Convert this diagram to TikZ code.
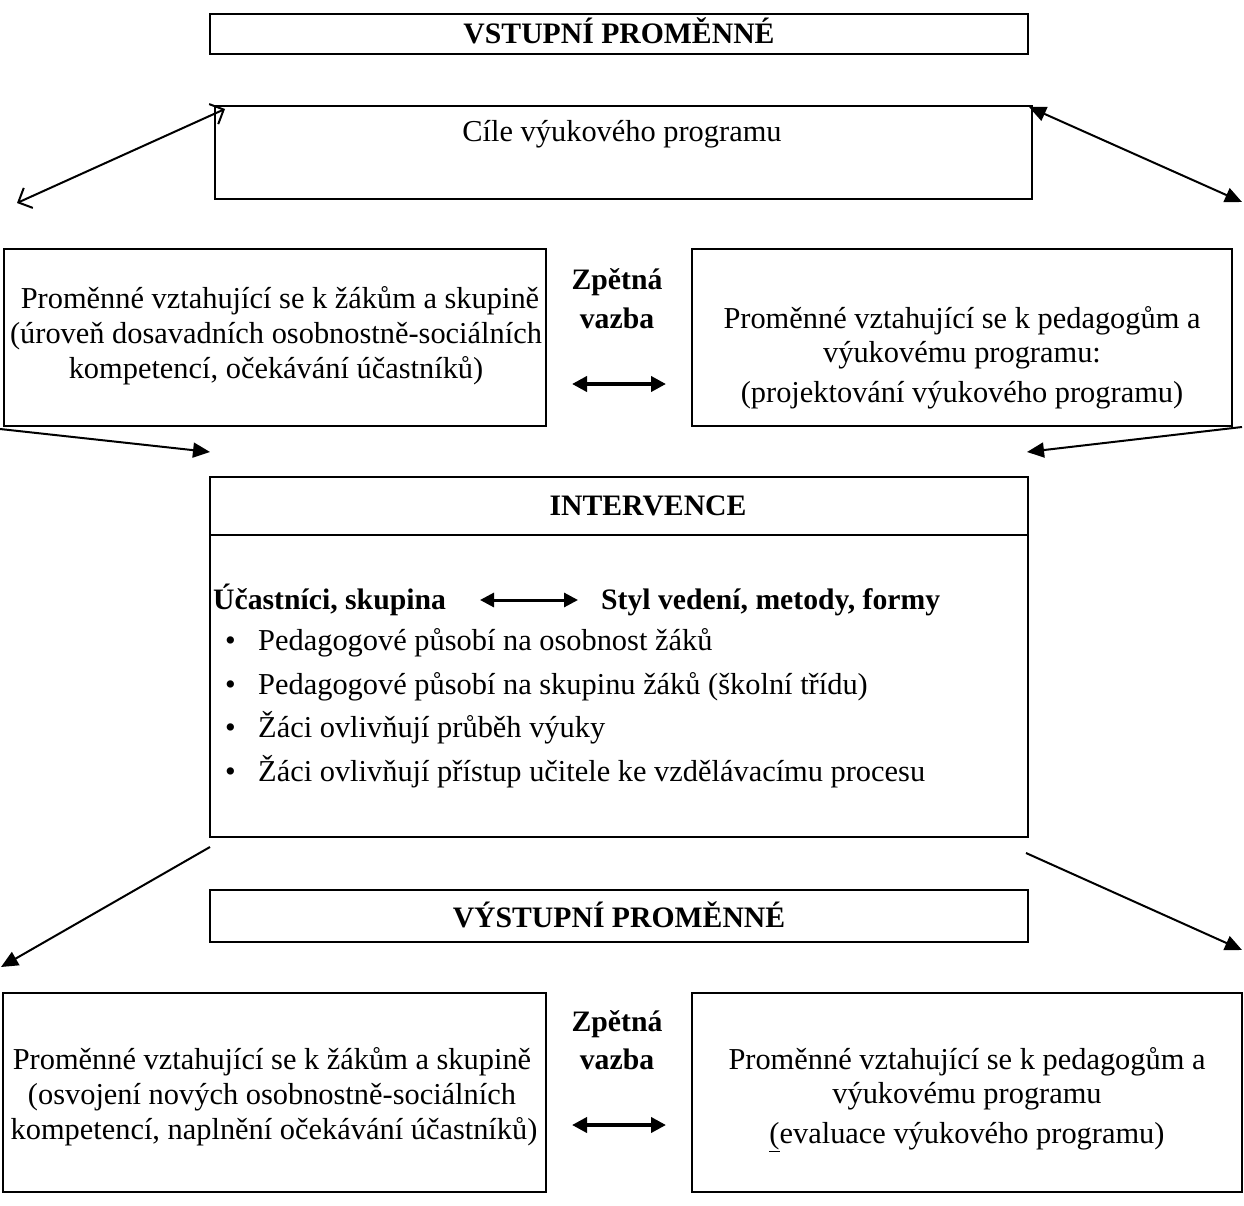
\documentclass[tikz,border=0pt]{standalone}
\usepackage{fontspec}
\setmainfont{Liberation Serif}
\usetikzlibrary{arrows.meta}
\begin{document}
\begin{tikzpicture}[x=1pt,y=-1pt,
  box/.style={draw, line width=2pt, inner sep=0pt},
  txt/.style={anchor=base, inner sep=0pt, font=\fontsize{30.4}{35}\selectfont},
  btxt/.style={anchor=base, inner sep=0pt, font=\fontsize{29.7}{35}\selectfont\bfseries},
  ltxt/.style={txt, anchor=base west},
  lbtxt/.style={btxt, anchor=base west},
  conn/.style={line width=2pt},
  tri/.style={-{Triangle[length=17pt,width=15pt]}},
  dtri/.style={{Triangle[length=17pt,width=15pt]}-{Triangle[length=17pt,width=15pt]}},
  barbs/.style={{Straight Barb[length=11pt,width=22pt]}-{Straight Barb[length=11pt,width=22pt]}},
  zv/.style={line width=4pt, {Triangle[length=15pt,width=15pt]}-{Triangle[length=15pt,width=15pt]}},
]
\useasboundingbox (0,0) rectangle (1244,1206);

% boxes
\node[box, minimum width=818pt, minimum height=40pt] (vin) at (619,34) {};
\node[box, minimum width=817pt, minimum height=93pt] (cile) at (623.5,152.5) {};
\node[box, minimum width=542pt, minimum height=177pt] (lz1) at (275,337.5) {};
\node[box, minimum width=540pt, minimum height=177pt] (rp1) at (962,337.5) {};
\node[box, minimum width=818pt, minimum height=360pt] (int) at (619,657) {};
\coordinate (div) at (0,535);
\draw[line width=2pt] (int.west |- div) -- (int.east |- div);
\node[box, minimum width=818pt, minimum height=52pt] (vout) at (619,916) {};
\node[box, minimum width=543pt, minimum height=199pt] (lz2) at (274.5,1092.5) {};
\node[box, minimum width=550pt, minimum height=199pt] (rp2) at (967,1092.5) {};

% texts
\node[btxt] (t-vin) at (619,44) {VSTUPNÍ PROMĚNNÉ};
\node[txt] (t-cile) at (622,142) {Cíle výukového programu};

\node[txt] (t-l1a) at (280,308) {Proměnné vztahující se k žákům a skupině};
\node[txt] (t-l1b) at (276,343) {(úroveň dosavadních osobnostně-sociálních};
\node[txt] (t-l1c) at (276,378) {kompetencí, očekávání účastníků)};

\node[txt] (t-r1a) at (962,328) {Proměnné vztahující se k pedagogům a};
\node[txt] (t-r1b) at (962,362) {výukovému programu:};
\node[txt] (t-r1c) at (962,402) {(projektování výukového programu)};

\node[btxt] (z1a) at (617,289) {Zpětná};
\node[btxt] (z1b) at (617,328) {vazba};
\coordinate (z1l) at (572,384);
\coordinate (z1r) at (666,384);
\draw[zv] (z1l) -- (z1r);

\node[btxt] (t-int) at (648,515) {INTERVENCE};
\node[lbtxt] (t-ucs) at (213,609) {Účastníci, skupina};
\node[lbtxt] (t-styl) at (601,609) {Styl vedení, metody, formy};
\coordinate (ia) at (480,600);
\coordinate (ib) at (578,600);
\draw[line width=3pt, {Triangle[length=14pt,width=14pt]}-{Triangle[length=14pt,width=14pt]}] (ia) -- (ib);

\foreach \y/\t [count=\i] in {650/{Pedagogové působí na osobnost žáků},
  694/{Pedagogové působí na skupinu žáků (školní třídu)},
  737/{Žáci ovlivňují průběh výuky},
  781/{Žáci ovlivňují přístup učitele ke vzdělávacímu procesu}}{
  \node[ltxt] (bul\i) at (225,\y) {•};
  \node[ltxt] (bt\i) at (258,\y) {\t};
}

\node[btxt] (t-vout) at (619,927) {VÝSTUPNÍ PROMĚNNÉ};

\node[txt] (t-l2a) at (272,1069) {Proměnné vztahující se k žákům a skupině};
\node[txt] (t-l2b) at (272,1104) {(osvojení nových osobnostně-sociálních};
\node[txt] (t-l2c) at (274,1139) {kompetencí, naplnění očekávání účastníků)};

\node[txt] (t-r2a) at (967,1069) {Proměnné vztahující se k pedagogům a};
\node[txt] (t-r2b) at (967,1103) {výukovému programu};
\node[txt] (t-r2c) at (967,1143) {\underline{(}evaluace výukového programu)};

\node[btxt] (z2a) at (617,1031) {Zpětná};
\node[btxt] (z2b) at (617,1069) {vazba};
\coordinate (z2l) at (572,1125);
\coordinate (z2r) at (666,1125);
\draw[zv] (z2l) -- (z2r);

% connectors
\coordinate (a1s) at (17,203);
\coordinate (a1e) at (225,109);
\draw[conn, barbs] (a1s) -- (a1e);
\coordinate (a2s) at (1029,107);
\coordinate (a2e) at (1242,202);
\draw[conn, dtri] (a2s) -- (a2e);

\coordinate (a3s) at (0,429);
\coordinate (a3e) at (210,452);
\draw[conn, tri] (a3s) -- (a3e);
\coordinate (a4s) at (1242,427);
\coordinate (a4e) at (1027,452);
\draw[conn, tri] (a4s) -- (a4e);

\coordinate (a5s) at (210,847);
\coordinate (a5e) at (1,967);
\draw[conn, tri] (a5s) -- (a5e);
\coordinate (a6s) at (1026,853);
\coordinate (a6e) at (1242,950);
\draw[conn, tri] (a6s) -- (a6e);
\end{tikzpicture}
\end{document}
